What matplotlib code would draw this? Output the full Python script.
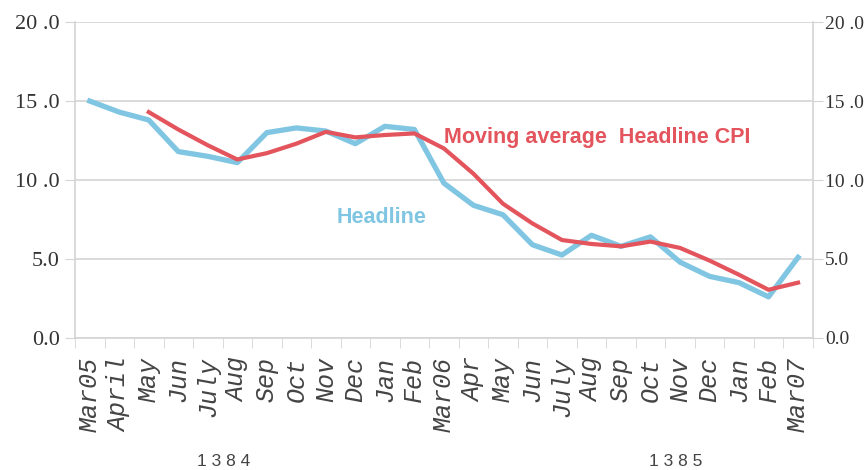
import numpy as np
import matplotlib.pyplot as plt

# month labels (Mar 2005 .. Mar 2007)
months = ['Mar05', 'April', 'May', 'Jun', 'July', 'Aug', 'Sep', 'Oct', 'Nov',
          'Dec', 'Jan', 'Feb', 'Mar06', 'Apr', 'May', 'Jun', 'July', 'Aug',
          'Sep', 'Oct', 'Nov', 'Dec', 'Jan', 'Feb', 'Mar07']

# headline CPI inflation (%)
headline = [15.0, 14.3, 13.8, 11.8, 11.5, 11.1, 13.0, 13.3, 13.1, 12.3, 13.4,
            13.2, 9.8, 8.4, 7.8, 5.9, 5.25, 6.5, 5.8, 6.4, 4.8, 3.9, 3.5, 2.6, 5.1]

# moving average of headline CPI, starts in May 05
moving_avg = [np.nan, np.nan, 14.3, 13.2, 12.2, 11.3, 11.7, 12.3, 13.05, 12.7,
              12.85, 12.95, 12.0, 10.4, 8.5, 7.25, 6.2, 5.95, 5.8, 6.1, 5.7,
              4.9, 4.0, 3.05, 3.5]

yticks = [0, 5, 10, 15, 20]
ytick_labels = ['0.0', '5.0', '10 .0', '15 .0', '20 .0']

blue = '#80c6e2'
red = '#e3545c'
grid_col = '#d4d4d4'

fig = plt.figure(figsize=(8.67, 4.70), dpi=100)
ax = fig.add_axes([0.0865, 0.281, 0.851, 0.672])

x = np.arange(len(months))
ax.plot(x, headline, color=blue, lw=3.8, solid_joinstyle='round', zorder=3)
ax.plot(x, moving_avg, color=red, lw=3.0, solid_joinstyle='round', zorder=4)

ax.set_xlim(-0.5, len(months) - 0.5)
ax.set_ylim(0, 20)

# left y axis
ax.set_yticks(yticks)
ax.set_yticklabels(ytick_labels, family='Liberation Serif', fontsize=16, color='#333333')
ax.tick_params(axis='y', length=7, color=grid_col, pad=4)
ax.yaxis.grid(True, color=grid_col, lw=1.2)

# right y axis (same scale)
ax2 = ax.twinx()
ax2.set_ylim(ax.get_ylim())
ax2.set_yticks(yticks)
ax2.set_yticklabels(ytick_labels, family='Liberation Serif', fontsize=14, color='#333333')
ax2.tick_params(axis='y', length=7, color=grid_col, pad=2)
for s in ax2.spines.values():
    s.set_visible(False)

# x categories: ticks between months
ax.set_xticks(x)
ax.set_xticklabels(months, rotation=90, family='Liberation Mono', style='italic',
                   fontsize=18, color='#444444', va='top')
ax.set_xticks(np.arange(-0.5, len(months), 1), minor=True)
ax.tick_params(axis='x', which='major', length=0, pad=14)
ax.tick_params(axis='x', which='minor', length=7, color=grid_col)

for s in ['left', 'right', 'bottom']:
    ax.spines[s].set_color(grid_col)
    ax.spines[s].set_linewidth(1.2)
ax.spines['top'].set_visible(False)

# series labels
ax.text(12.0, 12.7, 'Moving average  Headline CPI', color=red, fontsize=15.5,
        fontweight='bold', family='Liberation Sans', va='center')
ax.text(8.37, 7.65, 'Headline', color=blue, fontsize=15.5, fontweight='bold',
        family='Liberation Sans', va='center')

# solar year labels
fig.text(224 / 867, 1 - 462 / 470, '1 3 8 4', fontsize=12.5, family='Liberation Sans',
         color='#444444', ha='center', va='center')
fig.text(676 / 867, 1 - 462 / 470, '1 3 8 5', fontsize=12.5, family='Liberation Sans',
         color='#444444', ha='center', va='center')

fig.savefig('out.png', dpi=100)
